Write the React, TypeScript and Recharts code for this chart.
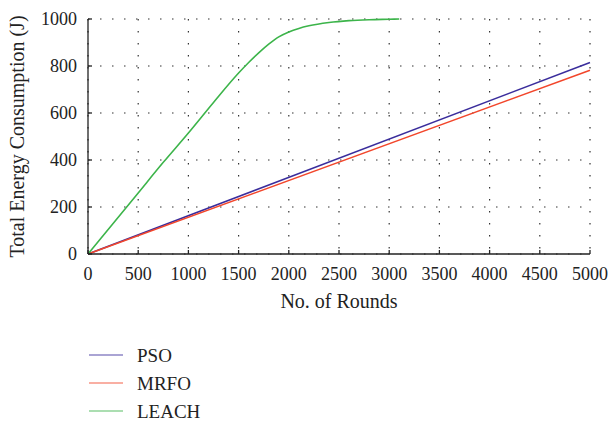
import React from 'react';
import { LineChart, Line, XAxis, YAxis, CartesianGrid, Legend } from 'recharts';

const xTicks = [0, 500, 1000, 1500, 2000, 2500, 3000, 3500, 4000, 4500, 5000];
const yTicks = [0, 200, 400, 600, 800, 1000];

const psoRounds = [0, 5000];
const psoEnergy = [0, 815];
const mrfoRounds = [0, 5000];
const mrfoEnergy = [0, 782];
const leachRounds = [0, 250, 500, 750, 1000, 1250, 1500, 1600, 1700, 1800, 1900, 2000, 2100, 2200, 2400, 2600, 2800, 3000, 3100];
const leachEnergy = [0, 130, 260, 390, 515, 645, 770, 815, 856, 893, 924, 945, 960, 971, 985, 993, 997, 999, 1000];

const seriesNames = ['PSO', 'MRFO', 'LEACH'];
const seriesColors = ['#3a2d9c', '#f2462b', '#3cb44a'];

const toRows = (xs: number[], ys: number[]) => xs.map((x, i) => ({ x, y: ys[i] }));
const psoData = toRows(psoRounds, psoEnergy);
const mrfoData = toRows(mrfoRounds, mrfoEnergy);
const leachData = toRows(leachRounds, leachEnergy);

const FONT = '"Liberation Serif", "DejaVu Serif", serif';

const LegendContent = () => (
  <div style={{ fontFamily: FONT, fontSize: 19, color: '#222', width: 200, whiteSpace: 'nowrap' }}>
    {seriesNames.map((n, i) => (
      <div key={n} style={{ display: 'flex', alignItems: 'center', height: 28 }}>
        <svg width={36} height={4} style={{ marginRight: 13 }}>
          <line x1={1} y1={2} x2={35} y2={2} stroke={seriesColors[i]} strokeWidth={1.2} opacity={0.85} />
        </svg>
        <span style={{ lineHeight: '19px' }}>{n}</span>
      </div>
    ))}
  </div>
);

export default function App() {
  return (
    <div style={{ position: 'absolute', left: 0, top: 0, background: '#fff' }}>
      <LineChart
        width={611}
        height={421}
        margin={{ top: 19, right: 21, left: 28, bottom: 137 }}
      >
        <CartesianGrid
          stroke="#333"
          strokeDasharray="1.5 10.5"
          strokeWidth={1.2}
          verticalValues={xTicks}
          horizontalValues={yTicks}
        />
        <XAxis
          dataKey="x"
          type="number"
          domain={[0, 5000]}
          ticks={xTicks}
          interval={0}
          allowDuplicatedCategory={false}
          stroke="#222"
          strokeWidth={1.3}
          tickSize={-4}
          tick={{ fill: '#222', fontSize: 18, fontFamily: FONT, dy: 15 }}
          height={30}
          label={{ value: 'No. of Rounds', position: 'bottom', offset: 0, dy: 10, fill: '#222', fontSize: 20, fontFamily: FONT }}
        />
        <YAxis
          type="number"
          domain={[0, 1000]}
          ticks={yTicks}
          interval={0}
          stroke="#222"
          strokeWidth={1.3}
          tickSize={-4}
          width={60}
          tick={{ fill: '#222', fontSize: 18, fontFamily: FONT, dx: -13 }}
          label={{ value: 'Total Energy Consumption (J)', angle: -90, position: 'center', dx: -41, fill: '#222', fontSize: 20, fontFamily: FONT }}
        />
        <Legend
          layout="vertical"
          verticalAlign="bottom"
          align="left"
          content={<LegendContent />}
          wrapperStyle={{ left: 88, top: 341, width: 0, height: 0, overflow: 'visible' }}
        />
        <Line data={psoData} dataKey="y" name="PSO" stroke={seriesColors[0]} strokeWidth={1.6} dot={false} isAnimationActive={false} />
        <Line data={mrfoData} dataKey="y" name="MRFO" stroke={seriesColors[1]} strokeWidth={1.6} dot={false} isAnimationActive={false} />
        <Line data={leachData} dataKey="y" name="LEACH" type="monotone" stroke={seriesColors[2]} strokeWidth={1.6} dot={false} isAnimationActive={false} />
      </LineChart>
    </div>
  );
}
